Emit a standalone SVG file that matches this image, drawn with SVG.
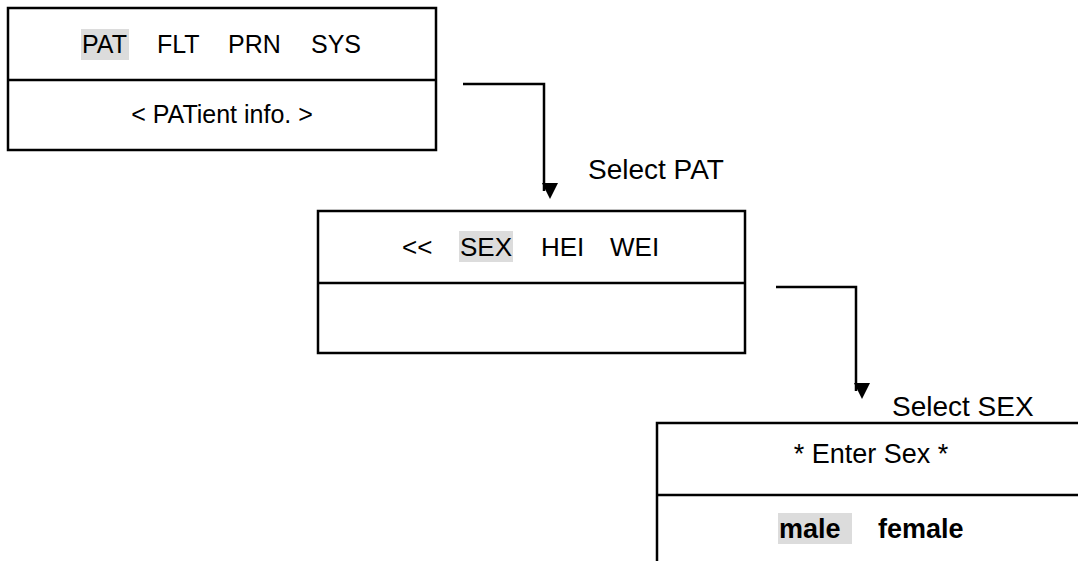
<svg xmlns="http://www.w3.org/2000/svg" width="1078" height="561" viewBox="0 0 1078 561">
<style>
.box{fill:#fff;stroke:#000;stroke-width:2.5}
.div{stroke:#000;stroke-width:2.5}
.t{font-family:"Liberation Sans",Arial,sans-serif;font-size:25px;fill:#000}
.t2{font-size:26px}
.t3{font-size:27px}
.lbl{font-size:28px}
.b{font-weight:bold}
.hl{fill:#dcdcdc}
.conn{fill:none;stroke:#000;stroke-width:2.5}
</style>
<defs>
<marker id="arr" markerWidth="16" markerHeight="16" refX="8" refY="14" orient="auto" markerUnits="userSpaceOnUse" viewBox="0 0 16 16">
<path d="M0,0 L16,0 L8,16 Z" fill="#000" transform="rotate(-90 8 8)"/>
</marker>
</defs>
<rect width="1078" height="561" fill="#fff"/>
<g id="node-menu">
<rect class="box" x="8" y="8" width="428" height="142"/>
<line class="div" x1="8" y1="80" x2="436" y2="80"/>
<rect class="hl" x="81" y="29" width="48" height="31"/>
<text class="t" x="82" y="53">PAT</text>
<text class="t" x="157" y="53">FLT</text>
<text class="t" x="228" y="53">PRN</text>
<text class="t" x="311" y="53">SYS</text>
<text class="t" x="222" y="123" text-anchor="middle">&lt; PATient info. &gt;</text>
</g>
<g id="node-pat">
<rect class="box" x="318" y="211" width="427" height="142"/>
<line class="div" x1="318" y1="283" x2="745" y2="283"/>
<rect class="hl" x="459" y="231" width="54" height="31"/>
<text class="t t2" x="402" y="256">&lt;&lt;</text>
<text class="t t2" x="460" y="256">SEX</text>
<text class="t t2" x="541" y="256">HEI</text>
<text class="t t2" x="610" y="256">WEI</text>
</g>
<g id="node-sex">
<path class="box" d="M1090,423 L657,423 L657,570"/>
<line class="div" x1="657" y1="495" x2="1090" y2="495"/>
<text class="t t3" x="871" y="463" text-anchor="middle">* Enter Sex *</text>
<rect class="hl" x="778" y="513" width="74" height="31"/>
<text class="t t3 b" x="779" y="538">male</text>
<text class="t t3 b" x="878" y="538">female</text>
</g>
<g id="connectors">
<path class="conn" d="M463,84 H544 V191" marker-end="url(#arr)"/>
<text class="t lbl" x="588" y="179">Select PAT</text>
<path class="conn" d="M776,287 H856 V391" marker-end="url(#arr)"/>
<text class="t lbl" x="892" y="416">Select SEX</text>
</g>
</svg>
